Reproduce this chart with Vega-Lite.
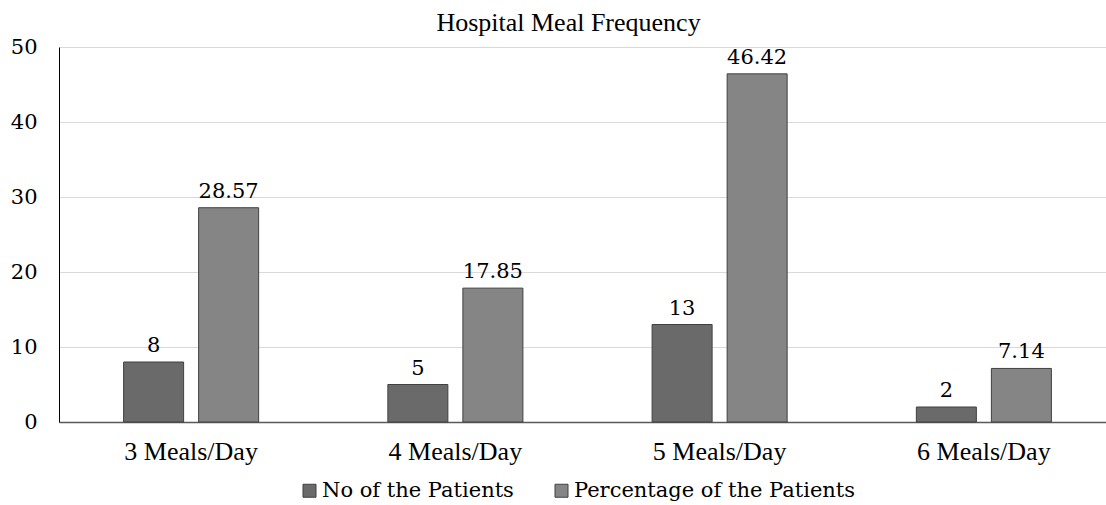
{
  "$schema": "https://vega.github.io/schema/vega-lite/v6.json",
  "autosize": "none",
  "width": 1057,
  "height": 375,
  "padding": {"left": 59, "top": 47, "right": -10, "bottom": 83},
  "background": "white",
  "config": {
    "font": "Liberation Serif",
    "view": {"stroke": null}
  },
  "title": {
    "text": "Hospital Meal Frequency",
    "fontSize": 26,
    "fontWeight": "normal",
    "color": "#000000",
    "anchor": "middle",
    "frame": "group",
    "offset": 0,
    "dx": -19
  },
  "data": {
    "values": [
      {"meals": "3 Meals/Day", "series": "No of the Patients", "value": 8},
      {"meals": "3 Meals/Day", "series": "Percentage of the Patients", "value": 28.57},
      {"meals": "4 Meals/Day", "series": "No of the Patients", "value": 5},
      {"meals": "4 Meals/Day", "series": "Percentage of the Patients", "value": 17.85},
      {"meals": "5 Meals/Day", "series": "No of the Patients", "value": 13},
      {"meals": "5 Meals/Day", "series": "Percentage of the Patients", "value": 46.42},
      {"meals": "6 Meals/Day", "series": "No of the Patients", "value": 2},
      {"meals": "6 Meals/Day", "series": "Percentage of the Patients", "value": 7.14}
    ]
  },
  "encoding": {
    "x": {
      "field": "meals",
      "type": "nominal",
      "sort": ["3 Meals/Day", "4 Meals/Day", "5 Meals/Day", "6 Meals/Day"],
      "scale": {"paddingInner": 0.489, "paddingOuter": 0.2445},
      "axis": {
        "title": null,
        "labelAngle": 0,
        "labelFontSize": 26,
        "labelColor": "#000000",
        "labelPadding": 16,
        "ticks": false,
        "domainColor": "#595959",
        "domainWidth": 1.5
      }
    },
    "xOffset": {
      "field": "series",
      "type": "nominal",
      "sort": ["No of the Patients", "Percentage of the Patients"],
      "scale": {"paddingInner": 0.2, "paddingOuter": 0}
    },
    "y": {
      "field": "value",
      "type": "quantitative",
      "scale": {"domain": [0, 50], "nice": false},
      "axis": {
        "title": null,
        "values": [0, 10, 20, 30, 40, 50],
        "labelFont": "DejaVu Serif",
        "labelFontSize": 21,
        "labelColor": "#000000",
        "labelPadding": 22,
        "ticks": false,
        "domainColor": "#000000",
        "domainWidth": 1,
        "grid": true,
        "gridColor": "#d9d9d9",
        "gridWidth": 1
      }
    }
  },
  "layer": [
    {
      "mark": {"type": "bar", "stroke": "#404040", "strokeWidth": 1},
      "encoding": {
        "fill": {
          "field": "series",
          "type": "nominal",
          "sort": ["No of the Patients", "Percentage of the Patients"],
          "scale": {"range": ["#6a6a6a", "#858585"]},
          "legend": {
            "title": null,
            "orient": "none",
            "direction": "horizontal",
            "legendX": 240,
            "legendY": 433,
            "padding": 0,
            "symbolType": "square",
            "symbolSize": 169,
            "symbolStrokeColor": "#404040",
            "symbolStrokeWidth": 1,
            "labelFont": "DejaVu Serif",
            "labelFontSize": 21,
            "labelColor": "#000000",
            "labelOffset": 2,
            "columnPadding": 37,
            "labelLimit": 400
          }
        }
      }
    },
    {
      "mark": {"type": "text", "font": "DejaVu Serif", "baseline": "alphabetic", "dy": -10, "fontSize": 21, "color": "#000000"},
      "encoding": {
        "text": {"field": "value", "type": "nominal"}
      }
    }
  ]
}
